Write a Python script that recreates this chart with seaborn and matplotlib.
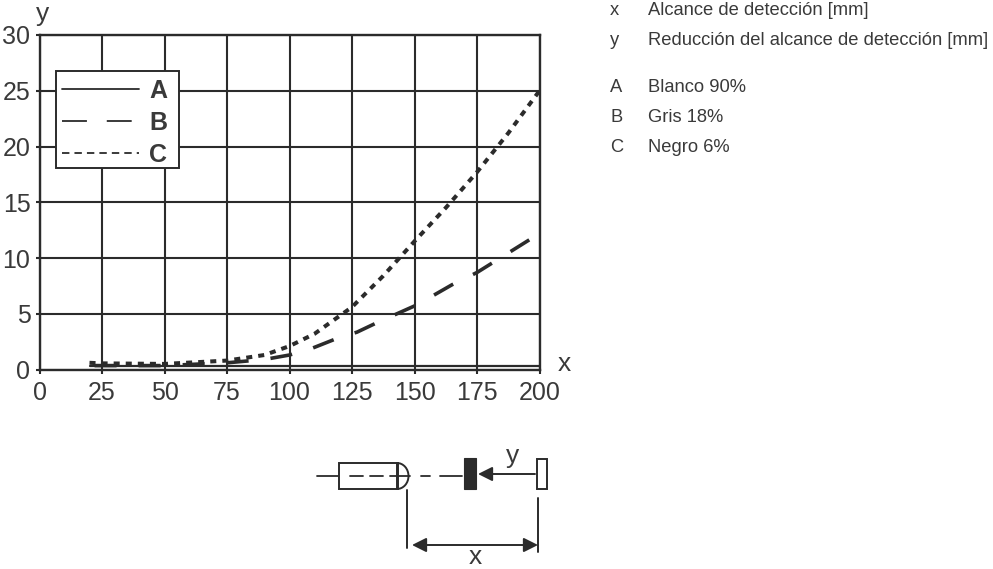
import pandas as pd
import matplotlib.pyplot as plt
import seaborn as sns
from matplotlib.lines import Line2D
from matplotlib.patches import Arc, Rectangle

# Values
x_a = [20, 50, 100, 150, 200]
y_a = [0.3, 0.3, 0.3, 0.3, 0.3]
x_b = [20, 50, 75, 90, 100, 109, 118, 127, 135, 143, 151, 165, 175, 190, 200]
y_b = [0.35, 0.35, 0.6, 0.9, 1.3, 1.9, 2.7, 3.35, 4.2, 5.0, 5.8, 7.6, 8.7, 10.8, 12.2]
x_c = [20, 25, 50, 75, 90, 100, 110, 125, 137.5, 150, 162.5, 175, 187.5, 200]
y_c = [0.6, 0.55, 0.5, 0.8, 1.3, 2.1, 3.2, 5.6, 8.4, 11.5, 14.5, 17.7, 21.2, 25.0]
x_ticks = [0, 25, 50, 75, 100, 125, 150, 175, 200]
y_ticks = [0, 5, 10, 15, 20, 25, 30]
notes_axes = ["x", "y"]
notes_axes_text = ["Alcance de detección [mm]", "Reducción del alcance de detección [mm]"]
notes_series = ["A", "B", "C"]
notes_series_text = ["Blanco 90%", "Gris 18%", "Negro 6%"]

ink = "#2b2b2b"
text_col = "#3a3a3a"

sns.set_theme(style="white")
plt.rcParams["font.family"] = ["Liberation Sans", "DejaVu Sans"]

df = pd.concat([
    pd.DataFrame({"x": x_a, "y": y_a, "curve": "A"}),
    pd.DataFrame({"x": x_b, "y": y_b, "curve": "B"}),
    pd.DataFrame({"x": x_c, "y": y_c, "curve": "C"}),
])

W, H = 993, 569
fig = plt.figure(figsize=(W / 100, H / 100), dpi=100)
ax = fig.add_axes([39.5 / W, 1 - 369.5 / H, 500 / W, 334.5 / H])

# Overlay in pixel coordinates for the notes and the sensor sketch
ov = fig.add_axes([0, 0, 1, 1], facecolor="none")
ov.set_xlim(0, W)
ov.set_ylim(H, 0)
ov.axis("off")

# Main curves
sns.lineplot(data=df[df.curve == "A"], x="x", y="y", color=ink, lw=1.6, ax=ax, zorder=3, legend=False)
sns.lineplot(data=df[df.curve == "B"], x="x", y="y", color=ink, lw=2.6, ax=ax, zorder=3,
             legend=False, linestyle=(10.8, (6.1, 6.1)))
sns.lineplot(data=df[df.curve == "C"], x="x", y="y", color=ink, lw=2.9, ax=ax, zorder=4,
             legend=False, linestyle=(0, (1.5, 1.5)))

ax.set_xlim(0, 200)
ax.set_ylim(0, 30)
ax.set_xticks(x_ticks)
ax.set_yticks(y_ticks)
ax.set_xlabel("")
ax.set_ylabel("")
ax.grid(True, color=ink, lw=1.5)
ax.set_axisbelow(True)
ax.tick_params(axis="both", length=3, width=1.5, color=ink, labelsize=18, labelcolor=text_col,
               bottom=True, left=True)
ax.tick_params(axis="x", pad=5)
ax.tick_params(axis="y", pad=3.5)
for s in ax.spines.values():
    s.set_color(ink)
    s.set_linewidth(1.7)

# Legend box: the rows sit off-centre in the frame, so the frame is its own patch
ax.add_patch(Rectangle((55.5, 70.5), 123.5, 97.5, transform=ov.transData, fc="white", ec=ink, lw=1.4,
                       zorder=4.5, clip_on=False))
handles = [
    Line2D([], [], color=ink, lw=1.3),
    Line2D([], [], color=ink, lw=1.3, linestyle=(0, (13.8, 11))),
    Line2D([], [], color=ink, lw=1.3, linestyle=(0, (4.1, 2.8))),
]
leg = ax.legend(handles, notes_series, loc="upper left", bbox_to_anchor=(15.5 / 500, 1 - 36.5 / 334.5),
                borderaxespad=0, frameon=False,
                handlelength=3.08, handletextpad=0.4, labelspacing=0.32, borderpad=0.28,
                prop={"size": 18, "weight": "bold"}, labelcolor=text_col)
leg.set_zorder(5)

ov.text(43, 21, "y", fontsize=19, color=text_col, ha="center", va="baseline")
ov.text(564, 371, "x", fontsize=19, color=text_col, ha="center", va="baseline")

for label, txt, yy in zip(notes_axes, notes_axes_text, [10, 40]):
    ov.text(610, yy, label, fontsize=13.2, color=text_col, ha="left", va="center")
    ov.text(648, yy, txt, fontsize=13.2, color=text_col, ha="left", va="center")
for label, txt, yy in zip(notes_series, notes_series_text, [87, 117, 147]):
    ov.text(610, yy, label, fontsize=13.2, color=text_col, ha="left", va="center")
    ov.text(648, yy, txt, fontsize=13.2, color=text_col, ha="left", va="center")

# Sensor sketch
ov.plot([317, 338], [476, 476], color=ink, lw=1.3)
ov.add_patch(Rectangle((338.5, 463), 59, 26, fill=False, ec=ink, lw=1.4))
ov.add_patch(Arc((397, 476), 23, 26, theta1=-90, theta2=90, ec=ink, lw=1.4))
ov.plot([397, 397], [463, 489], color=ink, lw=1.4)
for x0, x1 in [(350, 363), (370, 383), (390, 410), (421, 430), (440, 462)]:
    ov.plot([x0, x1], [476, 476], color=ink, lw=1.3)
ov.add_patch(Rectangle((464, 458), 12, 31, fc=ink, ec=ink, lw=0.8))
ov.add_patch(Rectangle((537, 458.5), 10, 30, fill=False, ec=ink, lw=1.4))
ov.annotate("", xy=(478, 474), xytext=(535, 474),
            arrowprops=dict(arrowstyle="-|>,head_length=0.72,head_width=0.36", color=ink, lw=1.4,
                            shrinkA=0, shrinkB=0))
ov.text(513, 463, "y", fontsize=19, color=text_col, ha="center", va="baseline")
ov.plot([407, 407], [490, 548], color=ink, lw=1.4)
ov.plot([538, 538], [498, 552], color=ink, lw=1.4)
ov.annotate("", xy=(412, 545), xytext=(538, 545),
            arrowprops=dict(arrowstyle="<|-|>,head_length=0.72,head_width=0.36", color=ink, lw=1.4,
                            shrinkA=0, shrinkB=0))
ov.text(475, 564, "x", fontsize=19, color=text_col, ha="center", va="baseline")

fig.savefig("out.png", dpi=100)
